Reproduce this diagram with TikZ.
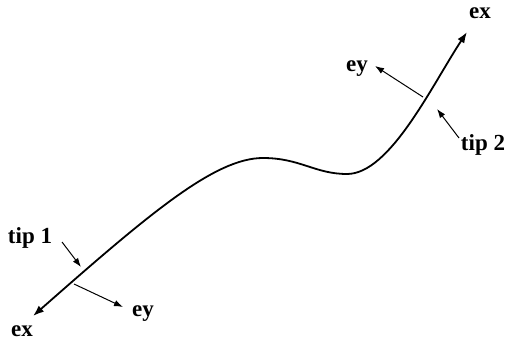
\documentclass[tikz,border=0pt]{standalone}
\usepackage{fontspec}
\setmainfont{Liberation Serif}
\usetikzlibrary{arrows.meta}

\begin{document}
\begin{tikzpicture}[x=0.5pt,y=0.5pt,yscale=-1,xscale=1,
  lbl/.style={inner sep=0.75pt,font=\fontsize{11.5}{13}\selectfont\bfseries},
  thin arrow/.style={line width=0.5pt,-{Latex[length=4.5pt,width=3.2pt]}},
  beam/.style={line width=0.9pt,{Latex[length=5.5pt,width=4pt]}-{Latex[length=5.5pt,width=4pt]}}]
\useasboundingbox (0,0) rectangle (512,347);
%Coordinates on the curve
\coordinate (end1) at (33,316);
\coordinate (hump) at (263,158);
\coordinate (dip) at (347,174);
\coordinate (end2) at (467,32);
\coordinate (pt1) at (74,284);
\coordinate (pt2) at (423,97);
\coordinate (ey1end) at (123,307);
\coordinate (ey2end) at (375,66);
\coordinate (tip1at) at (81,267);
\coordinate (tip2at) at (437,109);
\coordinate (tip1from) at (62,242);
\coordinate (tip2from) at (459,138);
%Curve Lines
\draw [beam] (end1) .. controls (150,213) and (215,158) .. (hump) .. controls (300,158) and (315,174) .. (dip) .. controls (390,174) and (432,85) .. (end2) ;
% Text Node
\node [lbl] (ex1) at (22,331) {ex};
\node [lbl] (ex2) at (480,13) {ex};
\node [lbl] (ey1) at (143,314) {ey};
\node [lbl] (ey2) at (357,69) {ey};
\node [lbl] (tip1) at (30,238) {tip 1};
\node [lbl] (tip2) at (483,145) {tip 2};
%Straight Lines
\draw [thin arrow] (pt1) -- (ey1end) ;
\draw [thin arrow] (pt2) -- (ey2end) ;
\draw [thin arrow] (tip1from) -- (tip1at) ;
\draw [thin arrow] (tip2from) -- (tip2at) ;
\end{tikzpicture}
\end{document}
